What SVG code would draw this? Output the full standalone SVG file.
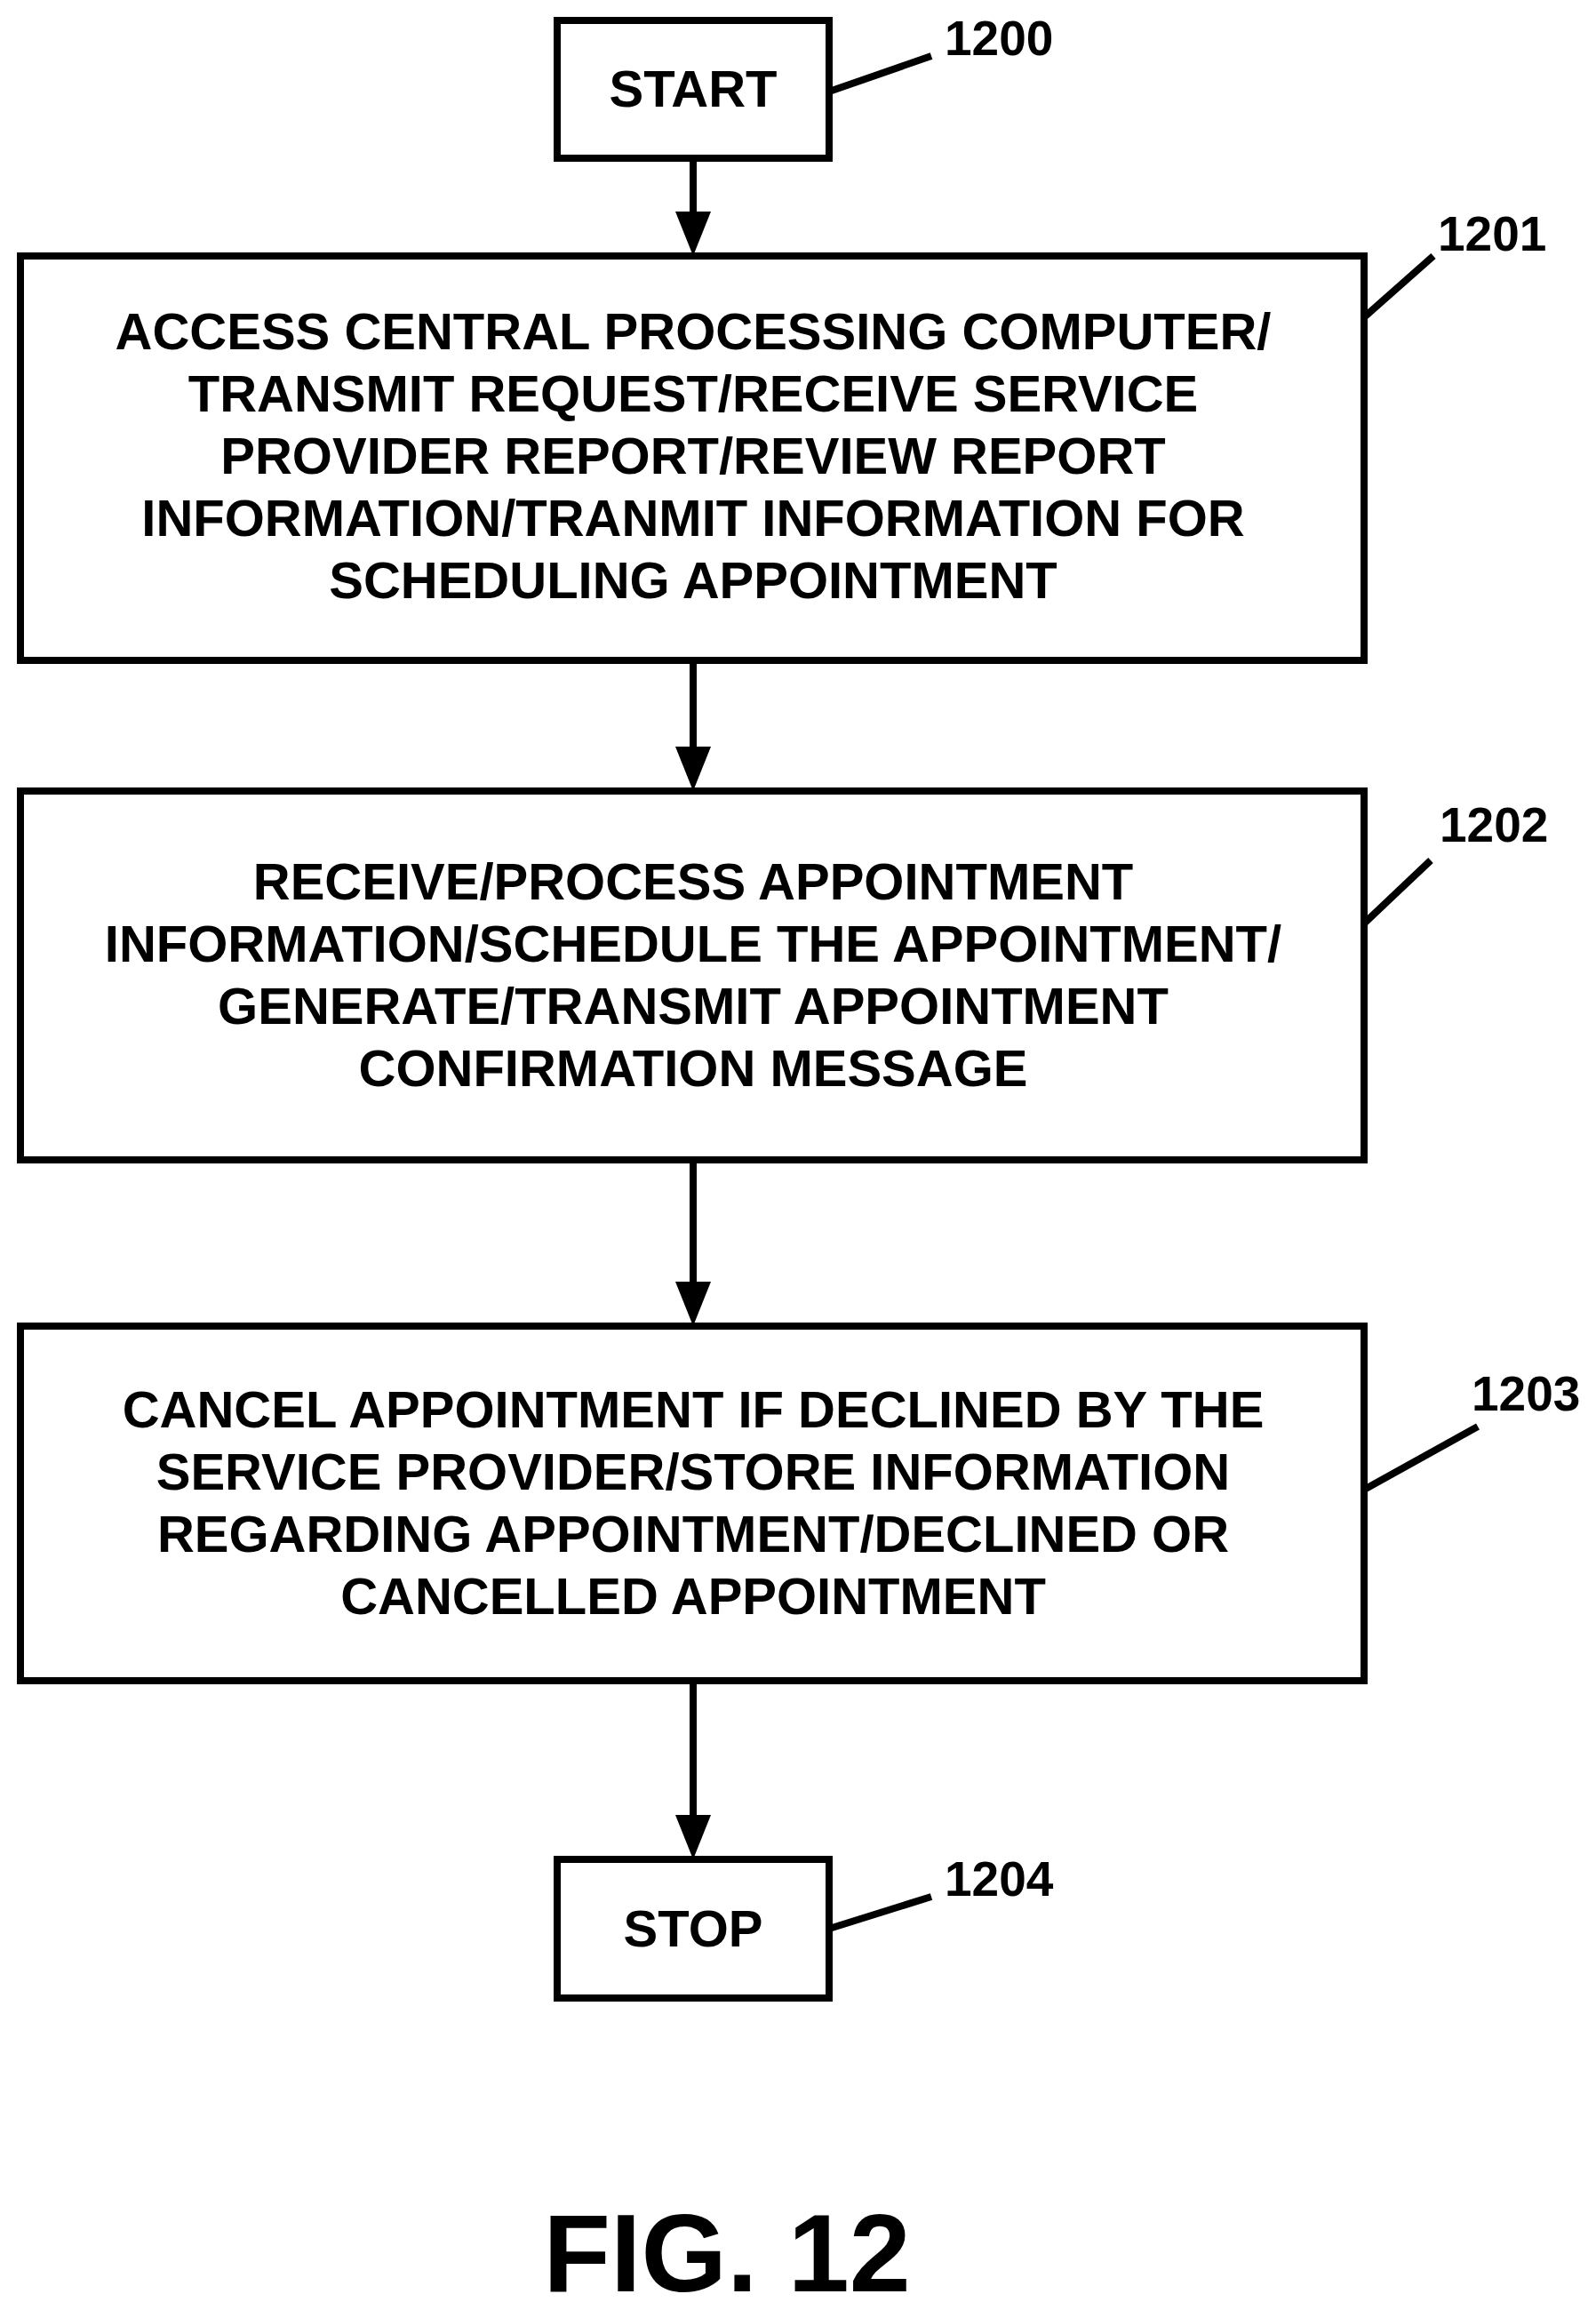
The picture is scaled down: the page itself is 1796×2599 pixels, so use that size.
<svg xmlns="http://www.w3.org/2000/svg" width="1796" height="2599" viewBox="0 0 1796 2599">
<style>
.b{fill:#fff;stroke:#000;stroke-width:8}
.t{font-family:"Liberation Sans",Arial,sans-serif;font-weight:bold;font-size:58px;text-anchor:middle;fill:#000}
.l{font-family:"Liberation Sans",Arial,sans-serif;font-weight:bold;font-size:55px;fill:#000}
.c{stroke:#000;stroke-width:8;fill:none}
</style>
<rect width="1796" height="2599" fill="#fff"/>
<g id="connectors">
<path class="c" d="M780,178 V240"/><path d="M760,238 L800,238 L780,288 z"/>
<path class="c" d="M780,743 V842"/><path d="M760,840 L800,840 L780,890 z"/>
<path class="c" d="M780,1305 V1444"/><path d="M760,1442 L800,1442 L780,1492 z"/>
<path class="c" d="M780,1891 V2044"/><path d="M760,2042 L800,2042 L780,2092 z"/>
<path class="c" d="M933,103 L1048,63"/><path class="c" d="M1535,357 L1613,288"/>
<path class="c" d="M1535,1039 L1610,968"/><path class="c" d="M1535,1676 L1663,1605"/>
<path class="c" d="M933,2170 L1048,2134"/>
</g>
<g id="n1200"><rect class="b" x="627" y="23" width="306" height="155"/><text class="t" x="780" y="120">START</text><text class="l" x="1063" y="62">1200</text></g>
<g id="n1201"><rect class="b" x="23" y="288" width="1512" height="455"/>
<text class="t" x="780" y="393">ACCESS CENTRAL PROCESSING COMPUTER/</text>
<text class="t" x="780" y="463">TRANSMIT REQUEST/RECEIVE SERVICE</text>
<text class="t" x="780" y="533">PROVIDER REPORT/REVIEW REPORT</text>
<text class="t" x="780" y="603">INFORMATION/TRANMIT INFORMATION FOR</text>
<text class="t" x="780" y="673">SCHEDULING APPOINTMENT</text>
<text class="l" x="1618" y="282">1201</text></g>
<g id="n1202"><rect class="b" x="23" y="890" width="1512" height="415"/>
<text class="t" x="780" y="1012">RECEIVE/PROCESS APPOINTMENT</text>
<text class="t" x="780" y="1082">INFORMATION/SCHEDULE THE APPOINTMENT/</text>
<text class="t" x="780" y="1152">GENERATE/TRANSMIT APPOINTMENT</text>
<text class="t" x="780" y="1222">CONFIRMATION MESSAGE</text>
<text class="l" x="1620" y="947">1202</text></g>
<g id="n1203"><rect class="b" x="23" y="1492" width="1512" height="399"/>
<text class="t" x="780" y="1606">CANCEL APPOINTMENT IF DECLINED BY THE</text>
<text class="t" x="780" y="1676">SERVICE PROVIDER/STORE INFORMATION</text>
<text class="t" x="780" y="1746">REGARDING APPOINTMENT/DECLINED OR</text>
<text class="t" x="780" y="1816">CANCELLED APPOINTMENT</text>
<text class="l" x="1656" y="1587">1203</text></g>
<g id="n1204"><rect class="b" x="627" y="2092" width="306" height="156"/><text class="t" x="780" y="2190">STOP</text><text class="l" x="1063" y="2133">1204</text></g>
<text x="818" y="2578" style="font-family:'Liberation Sans',Arial,sans-serif;font-weight:bold;font-size:124px;text-anchor:middle">FIG. 12</text>
</svg>
